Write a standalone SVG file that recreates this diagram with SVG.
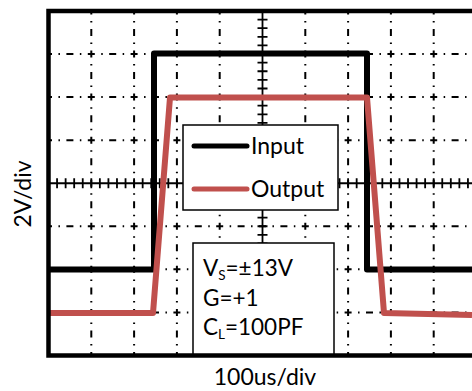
<svg xmlns="http://www.w3.org/2000/svg" width="472" height="391" viewBox="0 0 472 391">
<style>
.gv{stroke:#000;stroke-width:2;fill:none;stroke-dasharray:7 6.515 1.5 6.515;stroke-dashoffset:3.5}
.gh{stroke:#000;stroke-width:2;fill:none;stroke-dasharray:7 6.45 1.5 6.45;stroke-dashoffset:3.5}
.txt{font-family:Lato,"Open Sans","DejaVu Sans",sans-serif;font-size:23px;fill:#000}
.cond{font-size:22.5px}
.box{fill:#fff;stroke:#000;stroke-width:1.5}
</style>
<rect width="472" height="391" fill="#fff"/>
<g id="grid">
<path class="gv" d="M91.3,11V356M134.1,11V356M176.9,11V356M219.7,11V356M305.3,11V356M348.1,11V356M390.9,11V356M433.7,11V356"/>
<path class="gh" d="M48.5,54.06H472M48.5,97.12H472M48.5,140.19H472M48.5,226.31H472M48.5,269.37H472M48.5,312.44H472"/>
<line x1="48.5" y1="183.25" x2="472" y2="183.25" stroke="#000" stroke-width="1.8"/>
<line x1="48.5" y1="183.25" x2="472" y2="183.25" stroke="#000" stroke-width="10" stroke-dasharray="1.8 6.76" stroke-dashoffset="0.9"/>
<line x1="262.5" y1="11" x2="262.5" y2="356" stroke="#000" stroke-width="1.8"/>
<line x1="262.5" y1="11" x2="262.5" y2="356" stroke="#000" stroke-width="10" stroke-dasharray="1.8 6.81" stroke-dashoffset="0.9"/>
</g>
<g id="connectors">
<path id="input-trace" d="M49,269.5H154V53.5H367V269.5H472" fill="none" stroke="#000" stroke-width="6" stroke-linejoin="round"/>
<path id="output-trace" d="M49,313H153L170,97.5H367L384,313L472,315" fill="none" stroke="#c0504d" stroke-width="6" stroke-linejoin="round"/>
</g>
<g id="legend">
<rect class="box" x="183" y="125" width="155" height="85"/>
<line x1="194" y1="146" x2="247" y2="146" stroke="#000" stroke-width="5" stroke-linecap="round"/>
<text class="txt" x="251" y="154">Input</text>
<line x1="194" y1="189" x2="247" y2="189" stroke="#c0504d" stroke-width="5" stroke-linecap="round"/>
<text class="txt" x="251" y="197">Output</text>
</g>
<g id="conditions">
<rect class="box" x="193" y="243" width="141" height="113"/>
<text class="txt cond" x="203" y="276">V<tspan font-size="13.5" dy="4">S</tspan><tspan dy="-4">=±13V</tspan></text>
<text class="txt cond" x="203" y="306">G=+1</text>
<text class="txt cond" x="203" y="335">C<tspan font-size="13.5" dy="4">L</tspan><tspan dy="-4">=100PF</tspan></text>
</g>
<g id="frame">
<path d="M472,11H48.5V355.5H472" fill="none" stroke="#000" stroke-width="4.5"/>
</g>
<g id="axes">
<text class="txt" x="265" y="385" text-anchor="middle">100us/div</text>
<text class="txt" transform="translate(31,194) rotate(-90)" text-anchor="middle">2V/div</text>
</g>
</svg>
